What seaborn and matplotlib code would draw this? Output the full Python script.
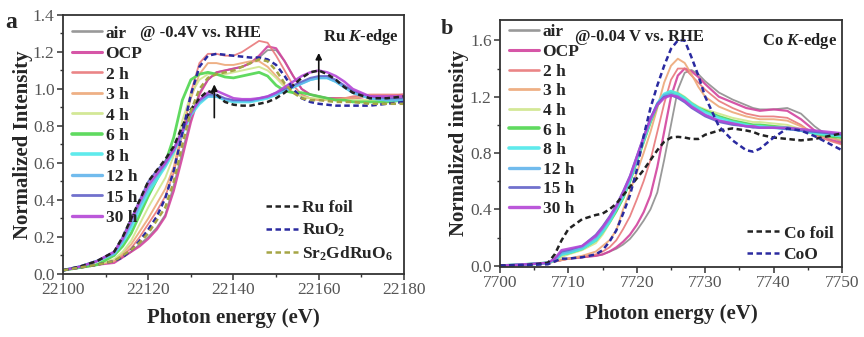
import numpy as np
import pandas as pd
import seaborn as sns
import matplotlib.pyplot as plt
from matplotlib.ticker import MultipleLocator

# ---------------- Ru K-edge (panel a) ----------------
energy_ru = [22100, 22104, 22108, 22112, 22114, 22116, 22118, 22120, 22122, 22124,
             22126, 22128, 22130, 22132, 22134, 22136, 22138, 22140, 22142, 22144,
             22146, 22148, 22150, 22152, 22154, 22156, 22158, 22160, 22162, 22164,
             22166, 22168, 22172, 22176, 22180]

ru_air = [0.02, 0.035, 0.05, 0.07, 0.09, 0.12, 0.16, 0.20, 0.25, 0.32, 0.48, 0.66, 0.84, 0.98, 1.05,
          1.09, 1.10, 1.11, 1.12, 1.14, 1.17, 1.21, 1.21, 1.15, 1.07, 1.00, 0.97, 0.96, 0.95, 0.95,
          0.95, 0.95, 0.96, 0.96, 0.96]
ru_ocp = [0.02, 0.035, 0.05, 0.06, 0.09, 0.12, 0.15, 0.19, 0.24, 0.31, 0.45, 0.63, 0.82, 0.97, 1.05,
          1.09, 1.10, 1.11, 1.12, 1.14, 1.18, 1.23, 1.22, 1.15, 1.07, 1.00, 0.97, 0.96, 0.95, 0.95,
          0.95, 0.95, 0.96, 0.96, 0.97]
ru_2h = [0.02, 0.035, 0.05, 0.07, 0.10, 0.14, 0.20, 0.27, 0.34, 0.42, 0.55, 0.76, 0.98, 1.14, 1.19,
         1.19, 1.18, 1.18, 1.20, 1.23, 1.26, 1.25, 1.18, 1.10, 1.02, 0.97, 0.95, 0.94, 0.94, 0.95,
         0.95, 0.96, 0.97, 0.97, 0.97]
ru_3h = [0.02, 0.035, 0.05, 0.07, 0.11, 0.16, 0.23, 0.30, 0.38, 0.46, 0.58, 0.78, 0.95, 1.08, 1.14,
         1.14, 1.13, 1.13, 1.14, 1.15, 1.15, 1.12, 1.07, 1.02, 0.98, 0.96, 0.95, 0.94, 0.94, 0.94,
         0.95, 0.95, 0.96, 0.96, 0.96]
ru_4h = [0.02, 0.035, 0.05, 0.08, 0.12, 0.18, 0.27, 0.36, 0.44, 0.52, 0.64, 0.83, 0.97, 1.05, 1.08,
         1.08, 1.08, 1.09, 1.10, 1.11, 1.12, 1.10, 1.06, 1.01, 0.98, 0.96, 0.95, 0.95, 0.94, 0.94,
         0.94, 0.94, 0.94, 0.94, 0.95]
ru_6h = [0.02, 0.035, 0.05, 0.10, 0.15, 0.22, 0.32, 0.42, 0.51, 0.60, 0.74, 0.94, 1.05, 1.08, 1.09,
         1.08, 1.065, 1.06, 1.07, 1.08, 1.09, 1.07, 1.02, 0.99, 0.98, 0.98, 0.97, 0.96, 0.95, 0.94,
         0.94, 0.93, 0.93, 0.93, 0.94]
ru_8h = [0.02, 0.04, 0.07, 0.11, 0.17, 0.25, 0.35, 0.44, 0.51, 0.58, 0.66, 0.76, 0.86, 0.92, 0.96,
         0.96, 0.94, 0.93, 0.93, 0.93, 0.94, 0.95, 0.97, 0.99, 1.01, 1.03, 1.05, 1.06, 1.06, 1.04,
         1.01, 0.98, 0.95, 0.94, 0.94]
ru_12h = [0.02, 0.04, 0.07, 0.11, 0.18, 0.27, 0.37, 0.46, 0.53, 0.59, 0.67, 0.77, 0.87, 0.93, 0.96,
          0.96, 0.945, 0.935, 0.935, 0.935, 0.945, 0.955, 0.97, 0.99, 1.01, 1.03, 1.05, 1.06, 1.06, 1.04,
          1.01, 0.98, 0.95, 0.94, 0.94]
ru_15h = [0.02, 0.04, 0.07, 0.12, 0.20, 0.30, 0.40, 0.50, 0.56, 0.61, 0.68, 0.78, 0.88, 0.94, 0.97,
          0.97, 0.95, 0.94, 0.94, 0.94, 0.95, 0.96, 0.98, 1.00, 1.02, 1.04, 1.06, 1.07, 1.07, 1.05,
          1.02, 0.99, 0.96, 0.95, 0.95]
ru_30h = [0.02, 0.04, 0.07, 0.12, 0.19, 0.29, 0.39, 0.48, 0.54, 0.60, 0.67, 0.77, 0.87, 0.94, 0.98,
          0.99, 0.97, 0.95, 0.945, 0.945, 0.95, 0.96, 0.98, 1.01, 1.04, 1.07, 1.09, 1.10, 1.09, 1.07,
          1.04, 1.00, 0.96, 0.96, 0.96]
ru_foil = [0.02, 0.04, 0.07, 0.12, 0.20, 0.30, 0.40, 0.50, 0.56, 0.62, 0.69, 0.80, 0.89, 0.95, 0.99,
           0.97, 0.93, 0.915, 0.91, 0.91, 0.92, 0.93, 0.95, 0.98, 1.02, 1.06, 1.09, 1.10, 1.08, 1.05,
           1.01, 0.98, 0.95, 0.95, 0.96]
ru_ruo2 = [0.02, 0.035, 0.05, 0.07, 0.09, 0.13, 0.18, 0.24, 0.31, 0.41, 0.56, 0.76, 0.97, 1.12, 1.18,
           1.19, 1.185, 1.18, 1.175, 1.17, 1.17, 1.16, 1.13, 1.07, 1.00, 0.95, 0.93, 0.92, 0.915, 0.91,
           0.91, 0.91, 0.91, 0.92, 0.93]
ru_sgro = [0.02, 0.035, 0.05, 0.07, 0.10, 0.13, 0.17, 0.22, 0.29, 0.36, 0.50, 0.70, 0.88, 1.00, 1.06,
           1.08, 1.09, 1.10, 1.12, 1.14, 1.16, 1.15, 1.10, 1.03, 0.98, 0.95, 0.94, 0.94, 0.935, 0.93,
           0.93, 0.93, 0.92, 0.92, 0.92]

# ---------------- Co K-edge (panel b) ----------------
energy_co = [7700, 7704, 7707, 7708, 7709, 7710, 7712, 7714, 7715, 7716, 7717, 7718, 7719, 7720,
             7721, 7722, 7723, 7724, 7725, 7726, 7727, 7728, 7729, 7730, 7732, 7734, 7736, 7737,
             7738, 7740, 7742, 7744, 7746, 7748, 7750]

co_air = [0.00, 0.01, 0.02, 0.03, 0.04, 0.05, 0.06, 0.07, 0.08, 0.10, 0.12, 0.15, 0.19, 0.25, 0.32,
          0.40, 0.52, 0.75, 1.00, 1.25, 1.37, 1.39, 1.36, 1.31, 1.23, 1.18, 1.14, 1.12, 1.11, 1.11,
          1.12, 1.08, 0.99, 0.92, 0.88]
co_ocp = [0.00, 0.01, 0.02, 0.03, 0.04, 0.05, 0.06, 0.07, 0.08, 0.10, 0.13, 0.17, 0.22, 0.29, 0.38,
          0.50, 0.70, 0.95, 1.20, 1.35, 1.40, 1.38, 1.34, 1.29, 1.20, 1.16, 1.12, 1.11, 1.10, 1.11,
          1.10, 1.04, 0.96, 0.90, 0.87]
co_2h = [0.00, 0.01, 0.02, 0.03, 0.04, 0.05, 0.06, 0.08, 0.10, 0.13, 0.18, 0.26, 0.35, 0.47, 0.60,
         0.75, 0.95, 1.15, 1.32, 1.40, 1.40, 1.35, 1.30, 1.25, 1.17, 1.12, 1.08, 1.07, 1.06, 1.06,
         1.05, 1.00, 0.93, 0.89, 0.86]
co_3h = [0.00, 0.01, 0.02, 0.03, 0.04, 0.05, 0.07, 0.10, 0.14, 0.18, 0.25, 0.40, 0.53, 0.66, 0.80,
         0.95, 1.12, 1.30, 1.42, 1.47, 1.44, 1.36, 1.27, 1.20, 1.13, 1.09, 1.06, 1.05, 1.04, 1.04,
         1.03, 0.99, 0.94, 0.91, 0.89]
co_4h = [0.00, 0.01, 0.02, 0.03, 0.06, 0.08, 0.11, 0.16, 0.22, 0.30, 0.38, 0.48, 0.60, 0.74, 0.88,
         1.02, 1.14, 1.21, 1.24, 1.23, 1.20, 1.16, 1.13, 1.11, 1.08, 1.05, 1.03, 1.02, 1.02, 1.01,
         1.00, 0.97, 0.94, 0.92, 0.91]
co_6h = [0.00, 0.01, 0.02, 0.04, 0.08, 0.09, 0.12, 0.18, 0.24, 0.31, 0.39, 0.48, 0.60, 0.74, 0.88,
         1.02, 1.14, 1.21, 1.23, 1.22, 1.19, 1.15, 1.12, 1.10, 1.06, 1.03, 1.01, 1.00, 1.00, 0.99,
         0.98, 0.96, 0.94, 0.92, 0.91]
co_8h = [0.00, 0.01, 0.02, 0.04, 0.08, 0.09, 0.12, 0.18, 0.24, 0.31, 0.40, 0.49, 0.61, 0.75, 0.89,
         1.03, 1.15, 1.22, 1.24, 1.22, 1.19, 1.15, 1.12, 1.09, 1.05, 1.02, 1.00, 0.99, 0.99, 0.98,
         0.98, 0.96, 0.94, 0.93, 0.92]
co_12h = [0.00, 0.01, 0.02, 0.04, 0.09, 0.10, 0.13, 0.20, 0.26, 0.33, 0.41, 0.51, 0.62, 0.76, 0.90,
          1.04, 1.15, 1.21, 1.22, 1.20, 1.17, 1.13, 1.10, 1.07, 1.03, 1.01, 0.99, 0.99, 0.98, 0.98,
          0.97, 0.96, 0.95, 0.94, 0.93]
co_15h = [0.00, 0.01, 0.02, 0.05, 0.10, 0.11, 0.14, 0.22, 0.28, 0.35, 0.43, 0.53, 0.64, 0.78, 0.92,
          1.05, 1.15, 1.20, 1.21, 1.19, 1.16, 1.12, 1.09, 1.06, 1.02, 1.00, 0.99, 0.98, 0.98, 0.98,
          0.97, 0.96, 0.95, 0.94, 0.93]
co_30h = [0.00, 0.01, 0.02, 0.05, 0.11, 0.12, 0.14, 0.21, 0.27, 0.34, 0.42, 0.52, 0.63, 0.77, 0.91,
          1.04, 1.14, 1.19, 1.21, 1.20, 1.17, 1.13, 1.10, 1.07, 1.03, 1.01, 0.99, 0.99, 0.98, 0.98,
          0.98, 0.97, 0.96, 0.95, 0.94]
co_foil = [0.00, 0.005, 0.02, 0.08, 0.18, 0.26, 0.33, 0.36, 0.37, 0.40, 0.44, 0.50, 0.56, 0.62, 0.68,
           0.75, 0.82, 0.88, 0.91, 0.915, 0.91, 0.90, 0.90, 0.93, 0.96, 0.975, 0.96, 0.95, 0.93, 0.91,
           0.90, 0.89, 0.90, 0.92, 0.94]
co_coo = [0.00, 0.005, 0.01, 0.03, 0.05, 0.05, 0.06, 0.08, 0.11, 0.17, 0.25, 0.37, 0.50, 0.68, 0.92,
          1.12, 1.28, 1.42, 1.54, 1.60, 1.60, 1.48, 1.35, 1.20, 0.99, 0.89, 0.82, 0.81, 0.83, 0.91,
          0.975, 0.96, 0.92, 0.87, 0.82]

series_names = ["air", "OCP", "2 h", "3 h", "4 h", "6 h", "8 h", "12 h", "15 h", "30 h"]
series_colors = ["#8e8e8e", "#d2449e", "#e8787a", "#eda878", "#cfe68c", "#4fd64f",
                 "#4ee8ea", "#62b4ec", "#6262c8", "#b446d6"]
series_widths = [1.3, 1.6, 1.3, 1.4, 1.4, 2.0, 2.0, 1.8, 1.4, 1.8]

ru_series = [ru_air, ru_ocp, ru_2h, ru_3h, ru_4h, ru_6h, ru_8h, ru_12h, ru_15h, ru_30h]
co_series = [co_air, co_ocp, co_2h, co_3h, co_4h, co_6h, co_8h, co_12h, co_15h, co_30h]

ru_refs = [("Ru foil", ru_foil, "#222222"), ("RuO$_2$", ru_ruo2, "#2a2aa0"),
           ("Sr$_2$GdRuO$_6$", ru_sgro, "#a5a545")]
co_refs = [("Co foil", co_foil, "#222222"), ("CoO", co_coo, "#2a2aa0")]

sns.set_theme(style="ticks")
plt.rcParams["font.family"] = ["Liberation Serif", "DejaVu Serif"]
plt.rcParams["mathtext.fontset"] = "custom"
plt.rcParams["mathtext.rm"] = "Liberation Serif:bold"
plt.rcParams["mathtext.it"] = "Liberation Serif:bold:italic"
plt.rcParams["mathtext.bf"] = "Liberation Serif:bold"

fig = plt.figure(figsize=(8.64, 3.37), dpi=100)
ax_a = fig.add_axes([0.0729, 0.187, 0.3947, 0.7685])
ax_b = fig.add_axes([0.5787, 0.2087, 0.3958, 0.732])

tick_color = "#555555"
spine_color = "#333333"
legend_font = {"family": "Liberation Serif", "weight": "bold", "size": 12.5}


def long_frame(energy, series, names):
    frames = []
    for name, vals in zip(names, series):
        frames.append(pd.DataFrame({"energy": energy, "intensity": vals, "sample": name}))
    return pd.concat(frames, ignore_index=True)


def draw_panel(ax, energy, series, refs):
    df = long_frame(energy, series, series_names)
    sample_handles = []
    for name, color, lw in zip(series_names, series_colors, series_widths):
        sub = df[df["sample"] == name]
        sns.lineplot(data=sub, x="energy", y="intensity", ax=ax, color=color,
                     linewidth=lw, alpha=0.9, legend=False, sort=False)
        sample_handles.append(plt.Line2D([], [], color=color, linewidth=lw + 0.6, alpha=0.9))
    ref_handles = []
    for label, vals, color in refs:
        rdf = pd.DataFrame({"energy": energy, "intensity": vals})
        sns.lineplot(data=rdf, x="energy", y="intensity", ax=ax, color=color,
                     linewidth=1.8, linestyle=(0, (2.2, 1.4)), legend=False, sort=False)
        ref_handles.append(plt.Line2D([], [], color=color, linewidth=1.8,
                                      linestyle=(0, (2.2, 1.4))))
    return sample_handles, ref_handles


def style_axes(ax, xlabel, ylabel, xpad, ypad):
    ax.set_xlabel(xlabel, fontsize=15, fontweight="bold", labelpad=xpad)
    ax.set_ylabel(ylabel, fontsize=15, fontweight="bold", labelpad=ypad)
    for s in ax.spines.values():
        s.set_visible(True)
        s.set_color(spine_color)
        s.set_linewidth(1.3)
    ax.tick_params(which="major", direction="out", length=4, width=1.1,
                   color=spine_color, labelsize=12.5, labelcolor=tick_color, pad=2)
    ax.tick_params(which="minor", direction="out", length=2.5, width=1.0, color=spine_color)
    ax.tick_params(top=False, right=False)


# Panel a
h_a, r_a = draw_panel(ax_a, energy_ru, ru_series, ru_refs)
ax_a.set_xlim(22100, 22180)
ax_a.set_ylim(0.0, 1.4)
ax_a.xaxis.set_major_locator(MultipleLocator(20))
ax_a.xaxis.set_minor_locator(MultipleLocator(10))
ax_a.yaxis.set_major_locator(MultipleLocator(0.2))
ax_a.yaxis.set_minor_locator(MultipleLocator(0.1))
ax_a.yaxis.set_major_formatter(plt.FormatStrFormatter("%.1f"))
style_axes(ax_a, "Photon energy (eV)", "Normalized Intensity", 7, 0)

leg1 = ax_a.legend(h_a, series_names, loc="upper left", bbox_to_anchor=(-0.005, 1.0),
                   frameon=False, handlelength=1.75, handletextpad=0.2, labelspacing=0.25,
                   borderaxespad=0.2, prop=legend_font)
ax_a.add_artist(leg1)
ax_a.legend(r_a, [r[0] for r in ru_refs], loc="lower right", bbox_to_anchor=(1.0, 0.0),
            frameon=False, handlelength=1.85, handletextpad=0.25, labelspacing=0.3,
            borderaxespad=0.25, prop=legend_font)

ax_a.annotate("", xy=(22135.5, 1.04), xytext=(22135.5, 0.83),
              arrowprops=dict(arrowstyle="-|>", color="#111111", lw=1.2, mutation_scale=9))
ax_a.annotate("", xy=(22160, 1.21), xytext=(22160, 0.98),
              arrowprops=dict(arrowstyle="-|>", color="#111111", lw=1.2, mutation_scale=9))
ax_a.text(0.225, 0.96, "@ -0.4V vs. RHE", transform=ax_a.transAxes, ha="left", va="top",
          fontsize=12, fontweight="bold", color="#222222")
ax_a.text(0.985, 0.955, r"Ru $K$-edge", transform=ax_a.transAxes, ha="right", va="top",
          fontsize=12, fontweight="bold", color="#222222")

# Panel b
h_b, r_b = draw_panel(ax_b, energy_co, co_series, co_refs)
ax_b.set_xlim(7700, 7750)
ax_b.set_ylim(-0.007, 1.745)
ax_b.xaxis.set_major_locator(MultipleLocator(10))
ax_b.xaxis.set_minor_locator(MultipleLocator(5))
ax_b.yaxis.set_major_locator(MultipleLocator(0.4))
ax_b.yaxis.set_minor_locator(MultipleLocator(0.2))
ax_b.yaxis.set_major_formatter(plt.FormatStrFormatter("%.1f"))
style_axes(ax_b, "Photon energy (eV)", "Normalized intensity", 9, 1)

leg2 = ax_b.legend(h_b, series_names, loc="upper left", bbox_to_anchor=(-0.005, 1.025),
                   frameon=False, handlelength=1.75, handletextpad=0.2, labelspacing=0.2,
                   borderaxespad=0.2, prop=legend_font)
ax_b.add_artist(leg2)
ax_b.legend(r_b, [r[0] for r in co_refs], loc="lower right", bbox_to_anchor=(1.0, -0.02),
            frameon=False, handlelength=1.85, handletextpad=0.25, labelspacing=0.3,
            borderaxespad=0.1, prop=legend_font)

ax_b.text(0.22, 0.965, "@-0.04 V vs. RHE", transform=ax_b.transAxes, ha="left", va="top",
          fontsize=12, fontweight="bold", color="#222222")
ax_b.text(0.985, 0.955, r"Co $K$-edge", transform=ax_b.transAxes, ha="right", va="top",
          fontsize=12, fontweight="bold", color="#222222")

fig.text(0.006, 0.965, "a", fontsize=17, fontweight="bold", va="top", ha="left")
fig.text(0.510, 0.945, "b", fontsize=16, fontweight="bold", va="top", ha="left")

fig.savefig("out.png", dpi=100)
